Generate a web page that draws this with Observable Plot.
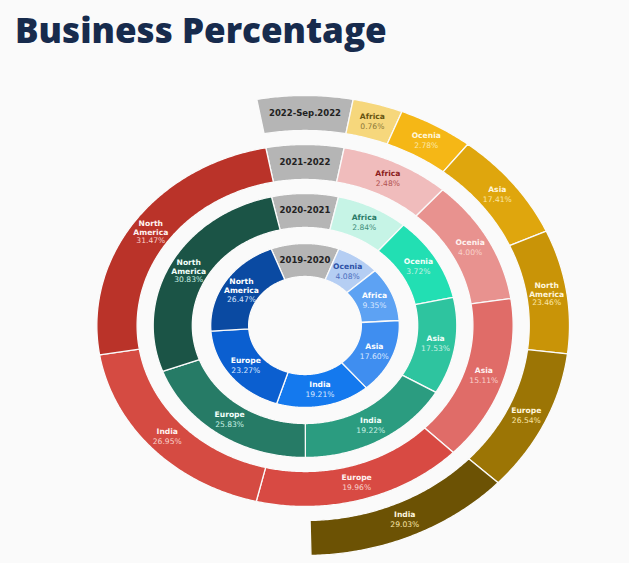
<!DOCTYPE html>
<html><head><meta charset="utf-8">
<script src="https://cdn.jsdelivr.net/npm/d3@7"></script>
<script src="https://cdn.jsdelivr.net/npm/@observablehq/plot@0.6"></script>
<style>
body{margin:0;background:#fafafa;width:629px;height:563px;overflow:hidden}
#title{margin:0;height:60px;line-height:60px;padding-left:15px;font-family:"Open Sans";font-weight:800;font-size:35px;color:#172b4d;white-space:nowrap}
#chart svg{display:block;background:transparent}
</style></head><body>
<div id="title">Business Percentage</div>
<div id="chart"></div>
<script>
// ---- data ----
const periods = ["2019-2020", "2020-2021", "2021-2022", "2022-Sep.2022"];

const regions2019 = ["Ocenia", "Africa", "Asia", "India", "Europe", "North America"];
const pct2019     = [4.08, 9.35, 17.60, 19.21, 23.27, 26.47];
const arc2019     = [27, 38.5, 53, 58, 68.5, 73];

const regions2020 = ["Africa", "Ocenia", "Asia", "India", "Europe", "North America"];
const pct2020     = [2.84, 3.72, 17.53, 19.22, 25.83, 30.83];
const arc2020     = [27.7, 37.2, 42.8, 59.4, 69.8, 97.6];

const regions2021 = ["Africa", "Ocenia", "Asia", "Europe", "India", "North America"];
const pct2021     = [2.48, 4.00, 15.11, 19.96, 26.95, 31.47];
const arc2021     = [30.6, 40, 53.1, 59, 67.1, 88.5];

const regions2022 = ["Africa", "Ocenia", "Asia", "North America", "Europe", "India"];
const pct2022     = [0.76, 2.78, 17.41, 23.46, 26.54, 29.03];
const arc2022     = [11, 16.5, 27.8, 31.3, 36, 45.6];

const labelArc = [42, 25.5, 21.7, 21]; // grey period-label slice of each ring

// ---- styles ----
const ringRadii = [[49, 82], [98, 132], [146, 181], [195, 230]];
const fills = [
  ["#b5cef3", "#5da2f3", "#3f8ef0", "#1479ee", "#0b5fd0", "#0a4aa2"],
  ["#c6f4e6", "#22dfb3", "#2ec49f", "#2b9c80", "#267b66", "#1b5446"],
  ["#f0bcbc", "#e8928f", "#e06c68", "#d84a43", "#d54b42", "#ba3329"],
  ["#f6d77c", "#f5b716", "#dfa60d", "#c99407", "#9c7505", "#6c5204"]
];
const nameInk = [
  ["#2d52a6", "#ffffff", "#ffffff", "#ffffff", "#ffffff", "#ffffff"],
  ["#2a7a66", "#f2fffa", "#f2fffa", "#f2fffa", "#f2fffa", "#f2fffa"],
  ["#8c1d20", "#fff2f0", "#fff2f0", "#fff2f0", "#fff2f0", "#fff2f0"],
  ["#665410", "#fff6dc", "#fff6dc", "#fff6dc", "#fff6dc", "#fff6dc"]
];
const pctInk = [
  ["#4a6dbd", "#d9e7ff", "#d9e7ff", "#d9e7ff", "#d9e7ff", "#d9e7ff"],
  ["#3f8c79", "#c9f0e3", "#c9f0e3", "#c9f0e3", "#c9f0e3", "#c9f0e3"],
  ["#b0514f", "#f9d2cb", "#f9d2cb", "#f9d2cb", "#f9d2cb", "#f9d2cb"],
  ["#8c7738", "#fbe7a8", "#fbe7a8", "#fbe7a8", "#fbe7a8", "#fbe7a8"]
];

const ringData = [
  [regions2019, pct2019, arc2019],
  [regions2020, pct2020, arc2020],
  [regions2021, pct2021, arc2021],
  [regions2022, pct2022, arc2022]
];

// ---- build slices ----
const rad = Math.PI / 180;
const slices = [];
ringData.forEach(([names, pcts, arcs], i) => {
  let a = -labelArc[i] / 2;
  const [r0, r1] = ringRadii[i];
  slices.push({ring: i, id: `g${i}`, label: periods[i], grey: true, a0: a, a1: a + labelArc[i], r0, r1, fill: "#b5b5b5"});
  a += labelArc[i];
  names.forEach((n, j) => {
    slices.push({ring: i, id: `s${i}-${j}`, label: n, pct: pcts[j], a0: a, a1: a + arcs[j], r0, r1,
      fill: fills[i][j], nameColor: nameInk[i][j], pctColor: pctInk[i][j]});
    a += arcs[j];
  });
});

const pts = [];
for (const s of slices) {
  const n = Math.max(2, Math.ceil((s.a1 - s.a0) / 0.5));
  const outer = d3.range(n + 1).map(k => s.a0 + (s.a1 - s.a0) * k / n);
  const ring = [...outer.map(t => [t, s.r1]), ...outer.slice().reverse().map(t => [t, s.r0])];
  ring.push(ring[0]);
  for (const [t, r] of ring) pts.push({id: s.id, fill: s.fill, x: r * Math.sin(t * rad), y: r * Math.cos(t * rad)});
}

const labels = slices.map(s => {
  const t = (s.a0 + s.a1) / 2 * rad, r = (s.r0 + s.r1) / 2;
  return {...s, x: r * Math.sin(t), y: r * Math.cos(t),
    two: s.label === "North America", name: s.label === "North America" ? "North\nAmerica" : s.label,
    pctText: s.pct != null ? s.pct.toFixed(2) + "%" : ""};
});
const greyL = labels.filter(d => d.grey);
const oneL = labels.filter(d => !d.grey && !d.two);
const twoL = labels.filter(d => !d.grey && d.two);

const W = 629, H = 503, cx = 304.5, cy = 265, sx = 1.15;
const font = "DejaVu Sans";

const chart = Plot.plot({
  width: W, height: H,
  margin: 0,
  style: {background: "transparent"},
  x: {domain: [-cx / sx, (W - cx) / sx], axis: null},
  y: {domain: [-(H - cy), cy], axis: null},
  color: {type: "identity"},
  marks: [
    Plot.line(pts, {x: "x", y: "y", z: "id", fill: "fill", stroke: "#fafafa", strokeWidth: 1.3, curve: "linear"}),
    Plot.text(greyL, {x: "x", y: "y", text: "label", fill: "#222222", fontWeight: "bold", fontSize: 8.5, fontFamily: font}),
    Plot.text(oneL, {x: "x", y: "y", text: "name", fill: "nameColor", fontWeight: "bold", fontSize: 7.6, fontFamily: font, dy: -5}),
    Plot.text(oneL, {x: "x", y: "y", text: "pctText", fill: "pctColor", fontSize: 7.6, fontFamily: font, dy: 5}),
    Plot.text(twoL, {x: "x", y: "y", text: "name", fill: "nameColor", fontWeight: "bold", fontSize: 7.6, lineHeight: 1.2, lineAnchor: "middle", fontFamily: font, dy: -4.5}),
    Plot.text(twoL, {x: "x", y: "y", text: "pctText", fill: "pctColor", fontSize: 7.6, fontFamily: font, dy: 9})
  ]
});
document.getElementById("chart").appendChild(chart);
</script>
</body></html>
